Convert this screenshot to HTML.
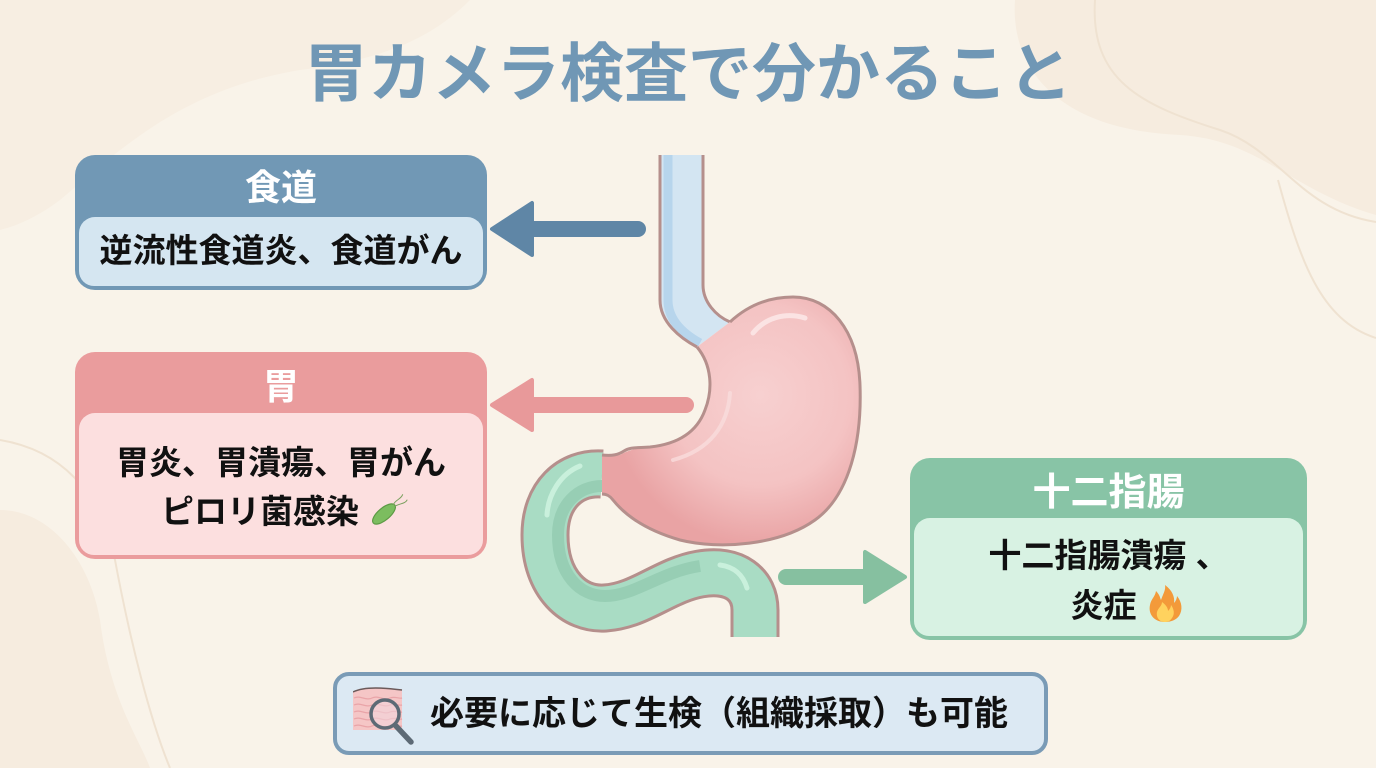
<!DOCTYPE html>
<html>
<head>
<meta charset="utf-8">
<style>
  html,body{margin:0;padding:0;}
  body{width:1376px;height:768px;position:relative;overflow:hidden;background:#f9f3e9;
    font-family:"Liberation Sans","Noto Sans CJK JP",sans-serif;}
  svg.bg{position:absolute;left:0;top:0;}
  svg.top{position:absolute;left:0;top:0;z-index:5;}
  .title{position:absolute;left:0;width:1376px;top:38px;text-align:center;font-size:64px;line-height:72px;
    font-weight:700;color:#7097b5;letter-spacing:0px;}
  .box{position:absolute;border-radius:20px;}
  .hdr{position:absolute;left:0;right:0;top:0;text-align:center;color:#fff;font-weight:700;}
  .bd{position:absolute;left:4px;right:4px;bottom:4px;border-radius:16px 16px 15px 15px;text-align:center;
    color:#111;font-weight:700;}
</style>
</head>
<body>
<svg class="bg" width="1376" height="768" viewBox="0 0 1376 768">
  <defs>
    <radialGradient id="stg" cx="760" cy="395" r="150" gradientUnits="userSpaceOnUse">
      <stop offset="0" stop-color="#f7d0d0"/>
      <stop offset="0.6" stop-color="#f4c3c3"/>
      <stop offset="1" stop-color="#e9a3a4"/>
    </radialGradient>
  </defs>
  <!-- background blobs -->
  <path d="M1015 0 C1010 70 1060 130 1180 135 C1260 140 1290 190 1376 215 L1376 0 Z" fill="#f6ecdf"/>
  <path d="M1095 0 C1090 80 1140 105 1220 130 C1280 150 1300 210 1376 222" fill="none" stroke="#efe2d1" stroke-width="2"/>
  <path d="M1278 180 C1300 260 1320 320 1376 338" fill="none" stroke="#efe2d1" stroke-width="2"/>
  <path d="M0 0 L470 0 C430 40 380 60 300 70 C180 90 120 150 60 200 C40 215 20 225 0 230 Z" fill="#f7eee2"/>
  <path d="M0 510 C50 510 90 560 100 620 C110 700 140 740 150 768 L0 768 Z" fill="#f6ecdf"/>
  <path d="M0 440 C60 450 100 490 115 560 C130 640 150 720 170 768" fill="none" stroke="#efe2d1" stroke-width="2"/>

  <!-- arrows -->
  <g fill="#5f86a6">
    <rect x="520" y="221" width="126" height="16" rx="8"/>
    <path d="M492 229 L532 203 L532 255 Z" stroke="#5f86a6" stroke-width="4" stroke-linejoin="round"/>
  </g>
  <g fill="#e8999a">
    <rect x="520" y="397" width="174" height="16" rx="8"/>
    <path d="M492 405 L532 380 L532 430 Z" stroke="#e8999a" stroke-width="4" stroke-linejoin="round"/>
  </g>
  <g fill="#86c0a0">
    <rect x="778" y="569" width="100" height="16" rx="8"/>
    <path d="M905 577 L865 552 L865 602 Z" stroke="#86c0a0" stroke-width="4" stroke-linejoin="round"/>
  </g>

  <!-- esophagus -->
  <path d="M660 155 L703 155 L703 285 C703 302 716 316 730 322 L697 347 C680 338 660 322 660 300 Z" fill="#d3e5f2"/>
  <path d="M668 155 L668 300 C668 318 680 332 700 343" fill="none" stroke="#b7d5ec" stroke-width="9"/>
  <path d="M660 155 L660 300 C660 322 680 338 697 347" fill="none" stroke="#b58f8c" stroke-width="3"/>
  <path d="M703 155 L703 285 C703 302 716 316 730 322" fill="none" stroke="#b58f8c" stroke-width="3"/>

  <!-- duodenum -->
  <path d="M602 474 C570 472 545 495 545 535 C545 585 575 610 605 608 C640 606 665 580 700 574 C735 568 755 585 755 610 L755 637"
        fill="none" stroke="#b58f8c" stroke-width="49"/>
  <path d="M602 474 C570 472 545 495 545 535 C545 585 575 610 605 608 C640 606 665 580 700 574 C735 568 755 585 755 610 L755 637"
        fill="none" stroke="#a9dcc4" stroke-width="43"/>
  <path d="M602 486 C578 486 558 505 558 535 C558 575 580 596 605 596 C635 596 660 572 700 566" fill="none" stroke="#97ceb4" stroke-width="12"/>
  <path d="M580 466 C560 474 548 495 547 515" fill="none" stroke="#c9f0dc" stroke-width="5" stroke-linecap="round"/>
  <path d="M720 565 C735 567 743 575 747 588" fill="none" stroke="#c9f0dc" stroke-width="5" stroke-linecap="round"/>

  <!-- stomach -->
  <path d="M697 347 C712 365 713 390 705 410 C697 432 678 444 650 447 C637 448 628 450 620 455 L602 456 L602 494 C607 494 610 496 613 500 C625 515 645 530 680 540 C720 550 780 545 815 520 C850 495 862 440 860 385 C858 330 830 297 793 297 C765 297 745 308 730 322 Z" fill="url(#stg)"/>
  <path d="M730 322 C745 308 765 297 793 297 C830 297 858 330 860 385 C862 440 850 495 815 520 C780 545 720 550 680 540 C645 530 625 515 613 500 C610 496 607 494 602 494" fill="none" stroke="#b58f8c" stroke-width="3"/>
  <path d="M697 347 C712 365 713 390 705 410 C697 432 678 444 650 447 C637 448 630 447 624 451 C618 455 612 456 602 455" fill="none" stroke="#b58f8c" stroke-width="3"/>
  <path d="M753 333 C765 318 785 312 805 318" fill="none" stroke="#fbe3e3" stroke-width="5" stroke-linecap="round"/>
  <path d="M730 393 C728 425 710 450 673 460" fill="none" stroke="#f9dcdc" stroke-width="4" stroke-linecap="round" opacity="0.8"/>
</svg>

<div class="title">胃カメラ検査で分かること</div>

<!-- Esophagus box -->
<div class="box" style="left:75px;top:155px;width:412px;height:135px;background:#7198b5;">
  <div class="hdr" style="height:64px;line-height:66px;font-size:36px;">食道</div>
  <div class="bd" style="top:62px;background:#d5e6f1;font-size:33px;line-height:68px;">逆流性食道炎、食道がん</div>
</div>

<!-- Stomach box -->
<div class="box" style="left:75px;top:352px;width:412px;height:207px;background:#ea9c9d;">
  <div class="hdr" style="height:63px;line-height:70px;font-size:36px;">胃</div>
  <div class="bd" style="top:61px;background:#fcdfdf;font-size:33px;line-height:49px;padding-top:25px;box-sizing:border-box;">胃炎、胃潰瘍、胃がん<br><span style="padding-right:42px;">ピロリ菌感染</span></div>
</div>

<!-- Duodenum box -->
<div class="box" style="left:910px;top:458px;width:397px;height:182px;background:#88c4a6;">
  <div class="hdr" style="height:64px;line-height:70px;font-size:38px;">十二指腸</div>
  <div class="bd" style="top:60px;background:#d8f2e3;font-size:33px;line-height:50px;padding-top:13px;box-sizing:border-box;">十二指腸潰瘍 、<br><span style="padding-right:10px;">炎症</span></div>
</div>

<!-- Bottom box -->
<div class="box" style="left:333px;top:672px;width:707px;height:75px;border:4px solid #7a9bb6;background:#dce9f3;border-radius:16px;">
  <svg style="position:absolute;left:16px;top:11px;" width="66" height="62" viewBox="353 687 66 62">
    <path d="M353 692 C365 686 385 688 402 690 L402 730 L353 730 Z" fill="#f5c6c6"/>
    <g fill="none" stroke="#e9a4a8" stroke-width="1.2">
      <path d="M354 698 C360 695 366 701 372 698 C378 695 384 701 390 698 C395 696 399 699 402 698"/>
      <path d="M354 705 C360 702 366 708 372 705 C378 702 384 708 390 705 C395 703 399 706 402 705"/>
      <path d="M354 712 C360 709 366 715 372 712 C378 709 384 715 390 712 C395 710 399 713 402 712"/>
      <path d="M354 719 C360 716 366 722 372 719 C378 716 384 722 390 719 C395 717 399 720 402 719"/>
      <path d="M354 726 C360 723 366 729 372 726 C378 723 384 729 390 726 C395 724 399 727 402 726"/>
    </g>
    <path d="M353 692 C365 686 385 688 402 690" fill="none" stroke="#6b5a5a" stroke-width="1.5"/>
    <circle cx="385" cy="714" r="14" fill="#f2d6dc" fill-opacity="0.6" stroke="#5d6a75" stroke-width="3.5"/>
    <path d="M396 726 L411 742" stroke="#5d6a75" stroke-width="5.5" stroke-linecap="round"/>
  </svg>
  <div style="position:absolute;left:93px;top:0;height:75px;line-height:77px;font-size:34px;font-weight:700;color:#111;white-space:nowrap;">必要に応じて生検（組織採取）も可能</div>
</div>

<!-- overlay icons -->
<svg class="top" width="1376" height="768" viewBox="0 0 1376 768">
  <!-- bacterium -->
  <g transform="translate(384 514) rotate(-40)">
    <ellipse cx="0" cy="0" rx="14" ry="6" fill="#7cbd5f" stroke="#5d9a45" stroke-width="1.2"/>
    <path d="M13 -1 C18 -4 22 0 27 -3 M13 1 C19 2 23 6 27 4" fill="none" stroke="#7aa05e" stroke-width="1"/>
  </g>
  <!-- flame -->
  <g transform="translate(1165 607)">
    <path d="M0 15 C-11 15 -17 7 -15 -2 C-14 -8 -10 -10 -9 -16 C-5 -12 -5 -9 -4 -7 C-2 -13 1 -17 0 -22 C7 -17 10 -10 9 -4 C11 -6 12 -9 12 -11 C17 -5 18 3 14 9 C11 13 6 15 0 15 Z" fill="#f39a3a"/>
    <path d="M0 15 C-6 15 -9 10 -8 5 C-7 1 -3 -1 -3 -5 C1 -2 3 1 3 4 C5 2 6 0 6 -2 C9 2 10 7 7 11 C5 14 3 15 0 15 Z" fill="#ffd25e"/>
  </g>
</svg>
</body>
</html>
